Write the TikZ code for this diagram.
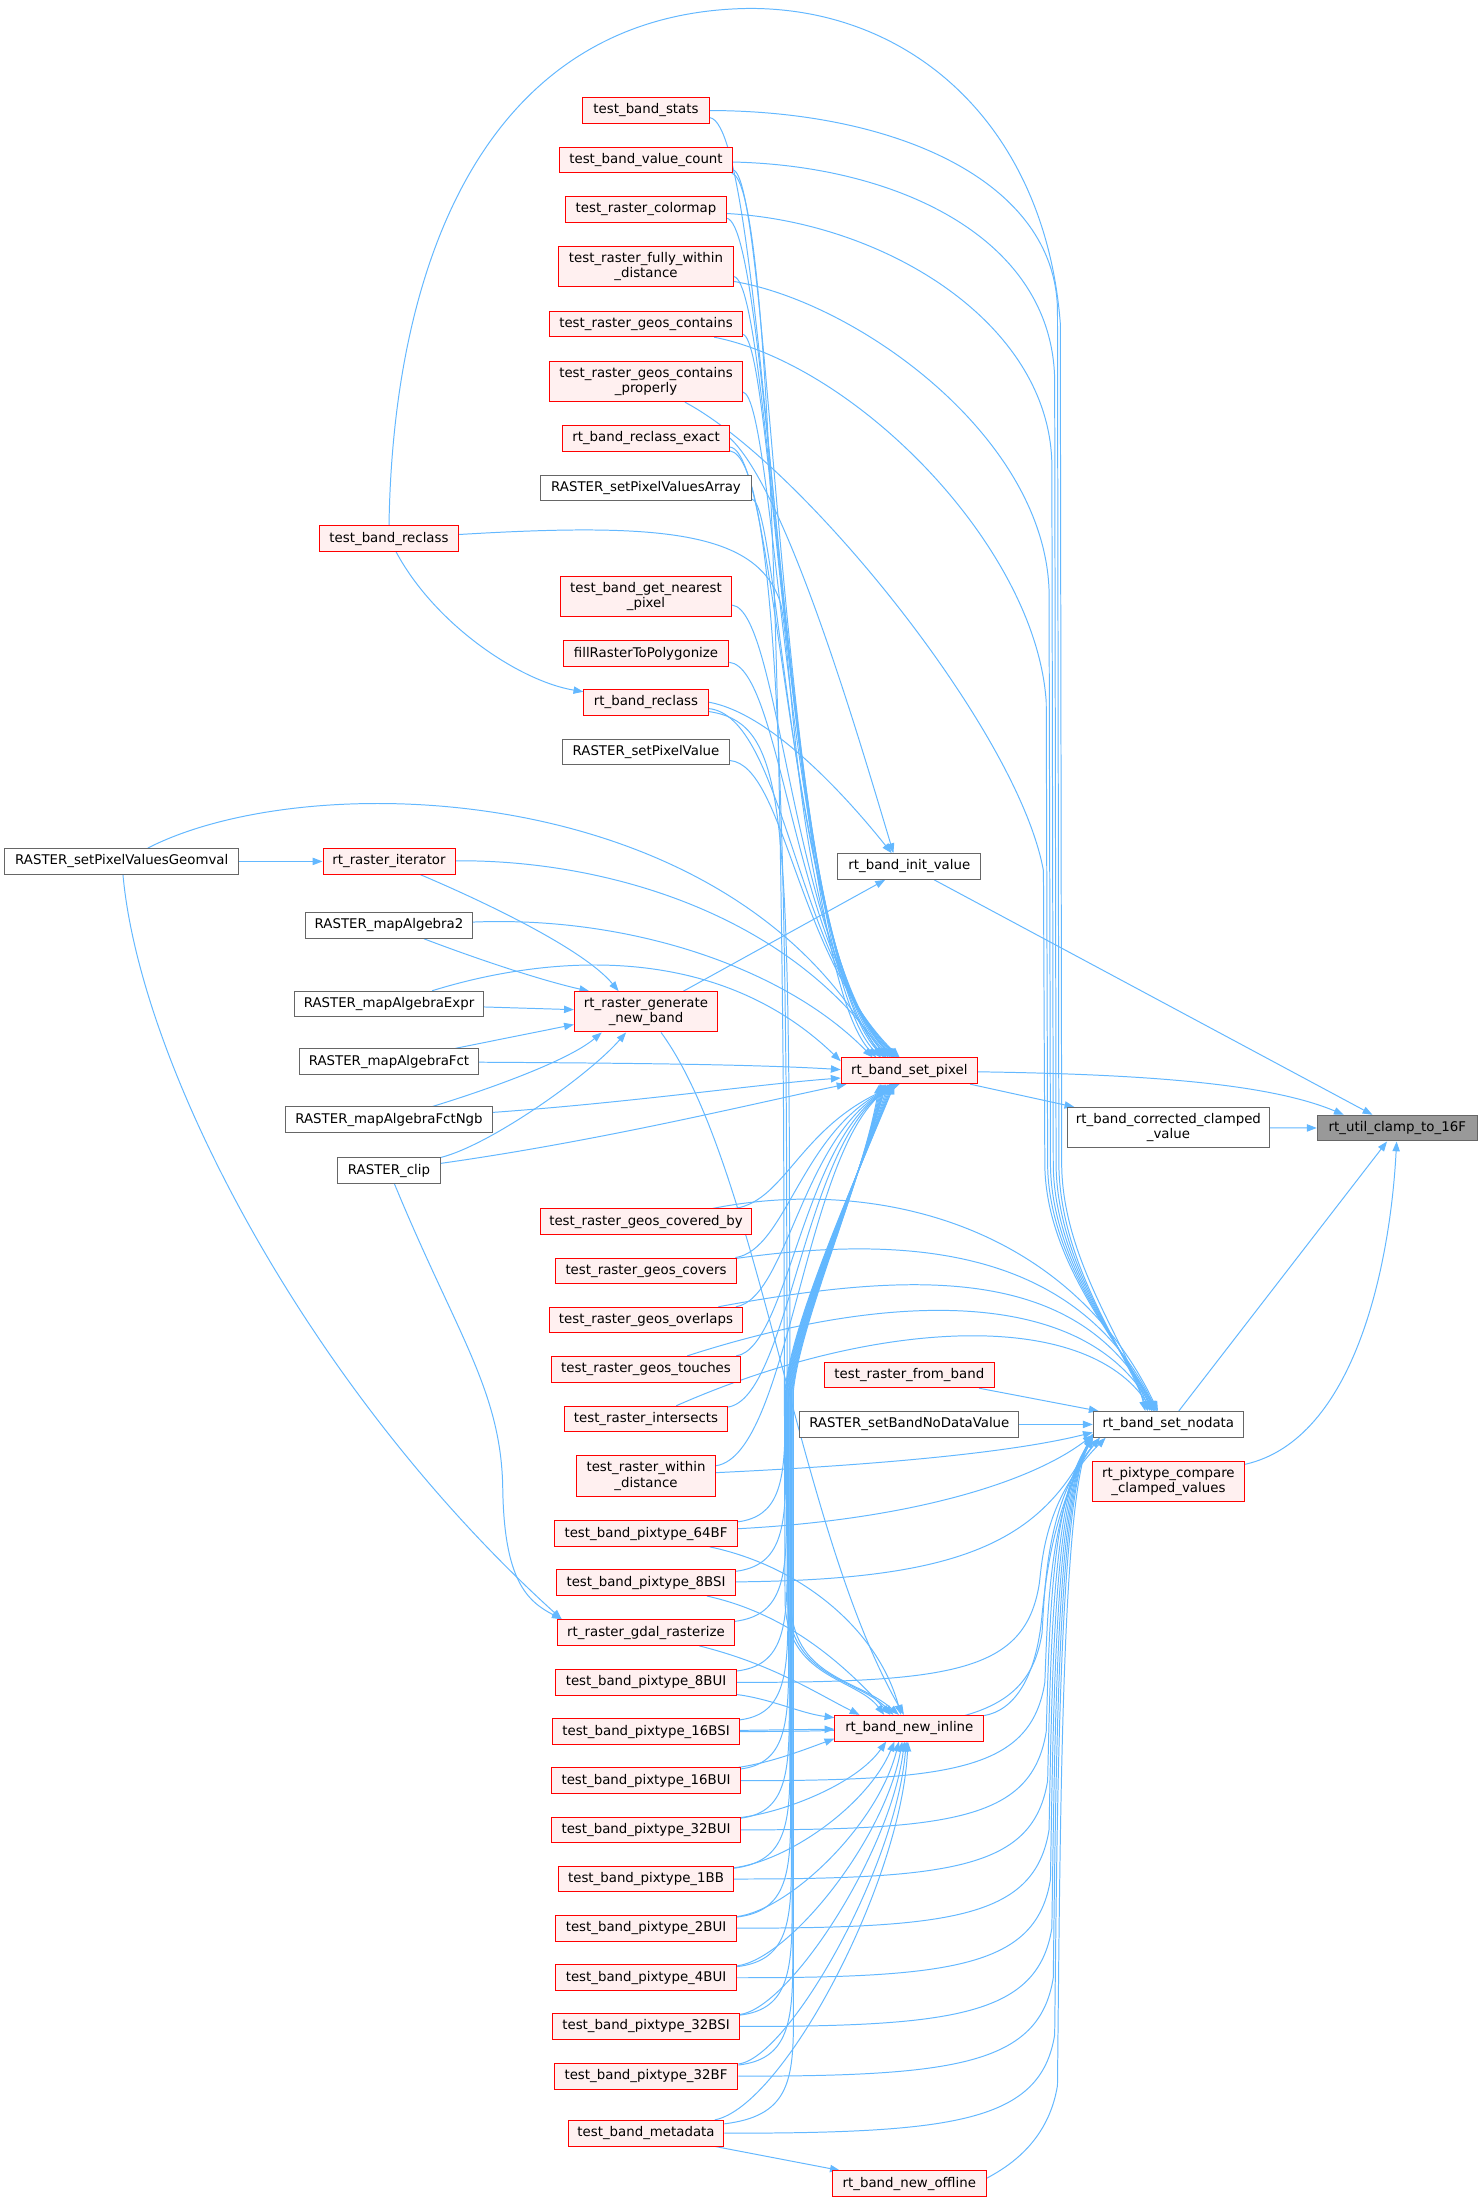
\documentclass[tikz,border=0pt]{standalone}
\usepackage{fontspec}
\newfontfamily\dvs{DejaVu Sans}
\usetikzlibrary{arrows.meta}
\definecolor{edgeblue}{HTML}{63B8FF}
\definecolor{nodered}{HTML}{FF0000}
\definecolor{nodepink}{HTML}{FFF0F0}
\definecolor{nodegray}{HTML}{666666}
\definecolor{curgray}{HTML}{999999}
\pgfdeclarelayer{bg}
\pgfsetlayers{bg,main}

\begin{document}
\begin{tikzpicture}[x=1pt, y=-1pt,
		% boxes of the caller graph
		fnbox/.style={rectangle, font=\dvs\fontsize{9.5}{10.8}\selectfont, inner xsep=2pt, inner ysep=3pt,
			minimum height=18.3pt, line width=0.7pt, align=center},
		redfn/.style={fnbox, draw=nodered, fill=nodepink},
		grayfn/.style={fnbox, draw=nodegray, fill=white},
		curfn/.style={fnbox, draw=nodegray, fill=curgray},
		twol/.style={minimum height=28.7pt},
		calls/.style={draw=edgeblue, line width=0.7pt, -{Triangle[length=7pt,width=5.2pt]}}
		]
		\useasboundingbox (0,0) rectangle (1055,1568);

		% column of callers
		\node[redfn, minimum width=90pt] (stats) at (460,78.6) {test\_band\_stats};
		\node[redfn, minimum width=123pt] (valcount) at (460,114) {test\_band\_value\_count};
		\node[redfn, minimum width=114pt] (colormap) at (460,149) {test\_raster\_colormap};
		\node[redfn, twol, minimum width=124pt] (fullywithin) at (460,190) {test\_raster\_fully\_within\\\_distance};
		\node[redfn, minimum width=137pt] (contains) at (460,230.6) {test\_raster\_geos\_contains};
		\node[redfn, twol, minimum width=137pt] (containsprop) at (460,271.7) {test\_raster\_geos\_contains\\\_properly};
		\node[redfn, minimum width=119pt] (reclassexact) at (460,312) {rt\_band\_reclass\_exact};
		\node[grayfn, minimum width=150pt] (setpixarray) at (460,347.5) {RASTER\_setPixelValuesArray};
		\node[redfn, minimum width=99pt] (tbreclass) at (277,383.6) {test\_band\_reclass};
		\node[redfn, twol, minimum width=122pt] (nearest) at (460,424.5) {test\_band\_get\_nearest\\\_pixel};
		\node[redfn, minimum width=118pt] (fillraster) at (460,465.5) {fillRasterToPolygonize};
		\node[redfn, minimum width=88.5pt] (reclass) at (460,500) {rt\_band\_reclass};
		\node[grayfn, minimum width=119pt] (setpixval) at (460,535.5) {RASTER\_setPixelValue};
		\node[grayfn, minimum width=166.6pt] (geomval) at (86.7,613.4) {RASTER\_setPixelValuesGeomval};
		\node[redfn, minimum width=94pt] (iterator) at (277,613.4) {rt\_raster\_iterator};
		\node[grayfn, minimum width=119pt] (mapalg2) at (277,659) {RASTER\_mapAlgebra2};
		\node[grayfn, minimum width=134pt] (mapexpr) at (277,715) {RASTER\_mapAlgebraExpr};
		\node[redfn, twol, minimum width=102pt] (gennew) at (460,720.5) {rt\_raster\_generate\\\_new\_band};
		\node[grayfn, minimum width=127pt] (mapfct) at (277,756) {RASTER\_mapAlgebraFct};
		\node[grayfn, minimum width=147pt] (mapfctngb) at (277,797.4) {RASTER\_mapAlgebraFctNgb};
		\node[grayfn, minimum width=73pt] (clip) at (277,833.6) {RASTER\_clip};
		\node[redfn, minimum width=150pt] (coveredby) at (460,870) {test\_raster\_geos\_covered\_by};
		\node[redfn, minimum width=129pt] (covers) at (460,905) {test\_raster\_geos\_covers};
		\node[redfn, minimum width=138pt] (overlaps) at (460,940) {test\_raster\_geos\_overlaps};
		\node[redfn, minimum width=134pt] (touches) at (460,975) {test\_raster\_geos\_touches};
		\node[redfn, minimum width=116pt] (intersects) at (460,1010.5) {test\_raster\_intersects};
		\node[redfn, twol, minimum width=99pt] (withindist) at (460,1051) {test\_raster\_within\\\_distance};
		\node[redfn, minimum width=130pt] (pt64BF) at (460,1092) {test\_band\_pixtype\_64BF};
		\node[redfn, minimum width=127pt] (pt8BSI) at (460,1127) {test\_band\_pixtype\_8BSI};
		\node[redfn, minimum width=126pt] (gdalrast) at (460,1162.5) {rt\_raster\_gdal\_rasterize};
		\node[redfn, minimum width=129pt] (pt8BUI) at (460,1198) {test\_band\_pixtype\_8BUI};
		\node[redfn, minimum width=133pt] (pt16BSI) at (460,1233) {test\_band\_pixtype\_16BSI};
		\node[redfn, minimum width=134pt] (pt16BUI) at (460,1268) {test\_band\_pixtype\_16BUI};
		\node[redfn, minimum width=134pt] (pt32BUI) at (460,1303) {test\_band\_pixtype\_32BUI};
		\node[redfn, minimum width=124pt] (pt1BB) at (460,1338) {test\_band\_pixtype\_1BB};
		\node[redfn, minimum width=129pt] (pt2BUI) at (460,1373) {test\_band\_pixtype\_2BUI};
		\node[redfn, minimum width=129pt] (pt4BUI) at (460,1408.3) {test\_band\_pixtype\_4BUI};
		\node[redfn, minimum width=133pt] (pt32BSI) at (460,1443) {test\_band\_pixtype\_32BSI};
		\node[redfn, minimum width=131pt] (pt32BF) at (460,1478.4) {test\_band\_pixtype\_32BF};
		\node[redfn, minimum width=111pt] (metadata) at (460,1519) {test\_band\_metadata};

		% callees
		\node[grayfn, minimum width=102pt] (initval) at (647.5,617) {rt\_band\_init\_value};
		\node[redfn, minimum width=97pt] (setpixel) at (647.5,762.5) {rt\_band\_set\_pixel};
		\node[redfn, minimum width=120.6pt] (fromband) at (647.5,979) {test\_raster\_from\_band};
		\node[grayfn, minimum width=156pt] (setbandnd) at (647.5,1014.3) {RASTER\_setBandNoDataValue};
		\node[redfn, minimum width=106pt] (newinline) at (647.5,1230.6) {rt\_band\_new\_inline};
		\node[redfn, minimum width=109.5pt] (newoffline) at (647.5,1555) {rt\_band\_new\_offline};
		\node[grayfn, twol, minimum width=144pt] (corrclamp) at (832,803) {rt\_band\_corrected\_clamped\\\_value};
		\node[grayfn, minimum width=107pt] (setnodata) at (832,1014.3) {rt\_band\_set\_nodata};
		\node[redfn, twol, minimum width=108.6pt] (pixcmp) at (832,1055) {rt\_pixtype\_compare\\\_clamped\_values};
		\node[curfn, minimum width=114pt] (clamp) at (995,803.3) {rt\_util\_clamp\_to\_16F};

		\begin{pgfonlayer}{bg}
		\fill[white] (0,0) rectangle (1055,1568);

		% left part
		\draw[calls] (geomval) -- (iterator);
		\draw[calls] (geomval) .. controls (220,545) and (520,555) .. (setpixel.155);
		\draw[calls] (geomval) .. controls (100,760) and (220,990) .. (gdalrast.171);
		\draw[calls] (clip) .. controls (325,950) and (357,990) .. (358,1060) .. controls (359,1125) and (375,1140) .. (gdalrast.171);
		\draw[calls] (tbreclass) .. controls (310,445) and (370,485) .. (reclass);
		\draw[calls] (iterator) .. controls (340,640) and (415,675) .. (gennew.143);
		\draw[calls] (mapalg2) .. controls (340,683) and (385,698) .. (gennew.160);
		\draw[calls] (mapexpr) -- (gennew);
		\draw[calls] (mapfct) -- (gennew.190);
		\draw[calls] (mapfctngb) .. controls (350,775) and (405,755) .. (gennew.205);
		\draw[calls] (clip) .. controls (350,815) and (420,765) .. (gennew.226);
		\draw[calls] (iterator) .. controls (430,612) and (560,650) .. (setpixel.150);
		\draw[calls] (mapalg2) .. controls (450,652) and (560,690) .. (setpixel.160);
		\draw[calls] (mapexpr) .. controls (390,680) and (510,670) .. (setpixel.172);
		\draw[calls] (mapfct) .. controls (450,757) and (540,758) .. (setpixel.179);
		\draw[calls] (mapfctngb) .. controls (450,785) and (540,772) .. (setpixel.186);
		\draw[calls] (clip) .. controls (430,812) and (540,785) .. (setpixel.192);

		% rt_band_init_value
		\draw[calls] (gennew) -- (initval);
		\draw[calls] (reclassexact.east) .. controls (560,350) and (610,520) .. (initval.140);
		\draw[calls] (reclass.east) .. controls (550,508) and (605,570) .. (initval.143);

		% rt_band_set_pixel from above and below
		\foreach \s/\y/\ang/\k in {stats/78.6/158/0, valcount/114/155/1, colormap/149/152/2,
			fullywithin/190/150/3, contains/230.6/147/4, containsprop/271.7/144/5,
			reclassexact/312/141/6, setpixarray/347.5/138/7, nearest/424.5/135/8,
			fillraster/465.5/132/9, reclass/500/129/10, setpixval/535.5/126/11}
			\draw[calls] (\s) .. controls (548+\k,\y+10) and (556+\k,680) .. (setpixel.\ang);
		\draw[calls] (tbreclass) .. controls (470,372) and (540,378) .. (556,430) .. controls (566,480) and (566,680) .. (setpixel.140);
		\foreach \s/\y/\ang/\k in {coveredby/870/234/0, covers/905/232/0.5, overlaps/940/230/1,
			touches/975/228/1.5, intersects/1010.5/226/2, withindist/1051/224/2.5}
			\draw[calls] (\s) .. controls (560+\k,\y-15) and (570+\k,{800+0.08*(\y-870)}) .. (setpixel.\ang);
		\foreach \s/\y/\ang/\v in {pt64BF/1092/222/559, pt8BSI/1127/220/559.5, gdalrast/1162.5/218/560,
			pt8BUI/1198/216/560.5, pt16BSI/1233/214/561, pt16BUI/1268/212/561.5, pt32BUI/1303/210/562,
			pt1BB/1338/209/562.5, pt2BUI/1373/208/563, pt4BUI/1408.3/207/563.5, pt32BSI/1443/206/564,
			pt32BF/1478.4/205/564.5, metadata/1519/204/565}
			\draw[calls] (\s) .. controls (\v-5,\y-12) and (\v,\y-35) .. (\v,\y-80) -- (\v,990)
				.. controls (\v+5,940) and (\v+50,840) .. (setpixel.\ang);

		% rt_band_new_inline
		\foreach \s/\y/\ang/\k in {valcount/114/152/0, reclassexact/312/140/2, reclass/500/128/4}
			\draw[calls] (\s) .. controls (550+\k,\y+14) and (556+\k,560) .. (558+\k,800) -- (559+\k,1140)
				.. controls (560+\k,1195) and (610,1195) .. (newinline.\ang);
		\draw[calls] (gennew) .. controls (540,830) and (568,1090) .. (newinline.112);
		\draw[calls] (pt64BF) .. controls (570,1115) and (625,1160) .. (newinline.122);
		\draw[calls] (pt8BSI) .. controls (565,1150) and (605,1190) .. (newinline.145);
		\draw[calls] (gdalrast) .. controls (550,1185) and (580,1205) .. (newinline.165);
		\draw[calls] (pt8BUI) .. controls (550,1210) and (570,1220) .. (newinline.172);
		\draw[calls] (pt16BSI) -- (newinline);
		\draw[calls] (pt16BUI) .. controls (550,1255) and (575,1245) .. (newinline.188);
		\draw[calls] (pt32BUI) .. controls (560,1290) and (610,1270) .. (newinline.210);
		\draw[calls] (pt1BB) .. controls (562,1325) and (618,1285) .. (newinline.222);
		\draw[calls] (pt2BUI) .. controls (562,1360) and (625,1300) .. (newinline.232);
		\draw[calls] (pt4BUI) .. controls (562,1395) and (630,1310) .. (newinline.242);
		\draw[calls] (pt32BSI) .. controls (562,1430) and (634,1320) .. (newinline.250);
		\draw[calls] (pt32BF) .. controls (562,1465) and (638,1330) .. (newinline.257);
		\draw[calls] (metadata) .. controls (558,1500) and (642,1340) .. (newinline.264);
		\draw[calls] (metadata) -- (newoffline);

		% rt_band_set_nodata from above
		\draw[calls] (tbreclass.north) .. controls (280,180) and (350,8) .. (534,6) .. controls (650,6) and (744,90) .. (755,230)
			-- (756,830) .. controls (757,900) and (805,960) .. (setnodata.150);
		\draw[calls] (stats) .. controls (640,79) and (751,130) .. (753,220) -- (754,830) .. controls (755,900) and (800,960) .. (setnodata.147);
		\draw[calls] (valcount) .. controls (640,118) and (749,170) .. (751,270) -- (752,830) .. controls (753,900) and (800,960) .. (setnodata.144);
		\draw[calls] (colormap) .. controls (630,158) and (747,230) .. (749,330) -- (750,830) .. controls (751,900) and (800,960) .. (setnodata.141);
		\draw[calls] (fullywithin) .. controls (610,215) and (743,310) .. (747,420) -- (748,830) .. controls (749,900) and (800,960) .. (setnodata.138);
		\draw[calls] (contains) .. controls (610,260) and (738,390) .. (745,500) -- (746,830) .. controls (747,900) and (800,960) .. (setnodata.135);
		\draw[calls] (containsprop) .. controls (570,330) and (725,520) .. (743,620) -- (744,830) .. controls (745,900) and (800,960) .. (setnodata.132);
		\draw[calls] (coveredby) .. controls (620,838) and (760,870) .. (setnodata.128);
		\draw[calls] (covers) .. controls (640,880) and (765,885) .. (setnodata.131);
		\draw[calls] (overlaps) .. controls (650,905) and (768,900) .. (setnodata.134);
		\draw[calls] (touches) .. controls (630,920) and (770,915) .. (setnodata.137);
		\draw[calls] (intersects) .. controls (620,940) and (772,930) .. (setnodata.140);
		\draw[calls] (fromband) -- (setnodata);
		\draw[calls] (setbandnd) -- (setnodata);

		% rt_band_set_nodata from below
		\draw[calls] (withindist) .. controls (650,1042) and (730,1032) .. (setnodata.186);
		\draw[calls] (pt64BF) .. controls (650,1082) and (735,1055) .. (setnodata.188);
		\draw[calls] (pt8BSI) .. controls (680,1125) and (740,1100) .. (setnodata.189);
		\foreach \s/\y/\v/\ang in {pt8BUI/1198/740/192, pt16BSI/1233/742/191.5, pt16BUI/1268/744/191,
			pt32BUI/1303/745/190.5, pt1BB/1338/746/190, pt2BUI/1373/747/189.5, pt4BUI/1408.3/748/189,
			pt32BSI/1443/749/188.5, pt32BF/1478.4/750/188, metadata/1519/751/187.5, newoffline/1555/753/187}
			\draw[calls] (\s) .. controls (680,\y) and (\v-10,\y-8) .. (\v,\y-70)
				.. controls (\v+2,{\y-70-0.5*(\y-1170)}) and (\v+3,1068) .. (setnodata.\ang);
		\draw[calls] (newinline) .. controls (722,1218) and (738,1195) .. (742,1150) .. controls (746,1110) and (752,1075) .. (setnodata.190);

		% rt_util_clamp_to_16F
		\draw[calls] (setpixel) -- (corrclamp);
		\draw[calls] (initval) -- (clamp);
		\draw[calls] (setpixel) .. controls (820,765) and (905,772) .. (clamp.166);
		\draw[calls] (corrclamp) -- (clamp);
		\draw[calls] (setnodata) -- (clamp);
		\draw[calls] (pixcmp) .. controls (965,1025) and (990,900) .. (clamp);
		\end{pgfonlayer}
	\end{tikzpicture}
\end{document}
